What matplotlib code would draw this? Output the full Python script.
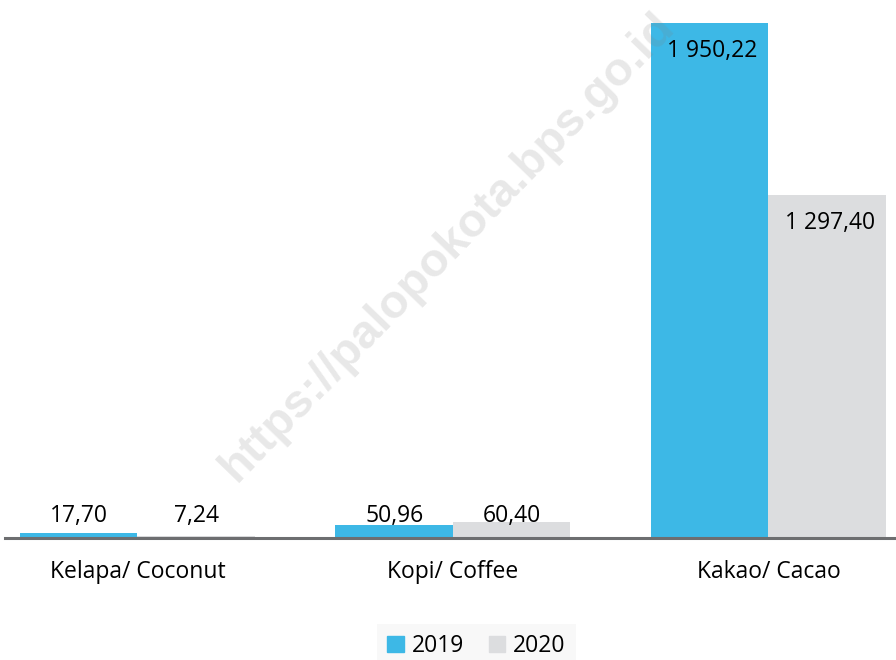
import numpy as np
import matplotlib.pyplot as plt
from matplotlib.patches import Patch

# ===============================
# DATA
# ===============================

kategori = ["Kelapa/ Coconut", "Kopi/ Coffee", "Kakao/ Cacao"]
tahun = ["2019", "2020"]
nilai_2019 = [17.70, 50.96, 1950.22]
nilai_2020 = [7.24, 60.40, 1297.40]

BIRU = "#3DB8E6"
ABU = "#DCDDDF"
GARIS = "#6D6E70"


def format_id(v):
    # 1950.22 -> "1 950,22"
    s = f"{v:,.2f}"
    return s.replace(",", " ").replace(".", ",")


plt.rcParams["font.family"] = ["Open Sans", "DejaVu Sans"]

fig = plt.figure(figsize=(8.96, 6.6), dpi=100)
ax = fig.add_axes([5 / 896, 122 / 660, 891 / 896, 538 / 660])

x = np.arange(len(kategori))
w = 0.3724

b1 = ax.bar(x - w / 2, nilai_2019, w, color=BIRU, zorder=2)
b2 = ax.bar(x + w / 2, nilai_2020, w, color=ABU, zorder=2)

ax.set_xlim(-0.42, 2.4045)
ax.set_ylim(0, 2037)

# ---------- LABEL NILAI ----------
for bars, vals in [(b1, nilai_2019), (b2, nilai_2020)]:
    for b, v in zip(bars, vals):
        cx = b.get_x() + b.get_width() / 2
        if v > 500:
            ax.annotate(format_id(v), (cx, v), xytext=(2, -20),
                        textcoords="offset points", ha="center", va="center",
                        fontsize=16.5, color="black", zorder=4)
        else:
            ax.text(cx, 83, format_id(v), ha="center", va="center",
                    fontsize=16.5, color="black", zorder=4)

# ---------- SUMBU ----------
for s in ["top", "right", "left"]:
    ax.spines[s].set_visible(False)
ax.spines["bottom"].set_color(GARIS)
ax.spines["bottom"].set_linewidth(2.2)
ax.spines["bottom"].set_zorder(3)
ax.set_yticks([])
ax.set_xticks(x, kategori, fontsize=16.5)
ax.tick_params(axis="x", length=0, pad=16)

# ---------- LEGENDA ----------
handles = [Patch(color=BIRU), Patch(color=ABU)]
leg = fig.legend(handles, tahun, loc="lower center",
                 bbox_to_anchor=(476.5 / 896, -0.03), ncol=2,
                 frameon=True, fancybox=False, fontsize=16.5,
                 handlelength=0.7, handleheight=0.7, handletextpad=0.35,
                 columnspacing=1.1, borderpad=0.45)
leg.get_frame().set_facecolor("#F7F7F7")
leg.get_frame().set_edgecolor("none")

# ---------- WATERMARK ----------
fig.text(0.5, 1 - 247 / 660, "https://palopokota.bps.go.id",
         rotation=46, ha="center", va="center", fontsize=34,
         fontweight="bold", family="Liberation Sans",
         color="#808080", alpha=0.18, zorder=5)

fig.savefig("out.png", dpi=100)
